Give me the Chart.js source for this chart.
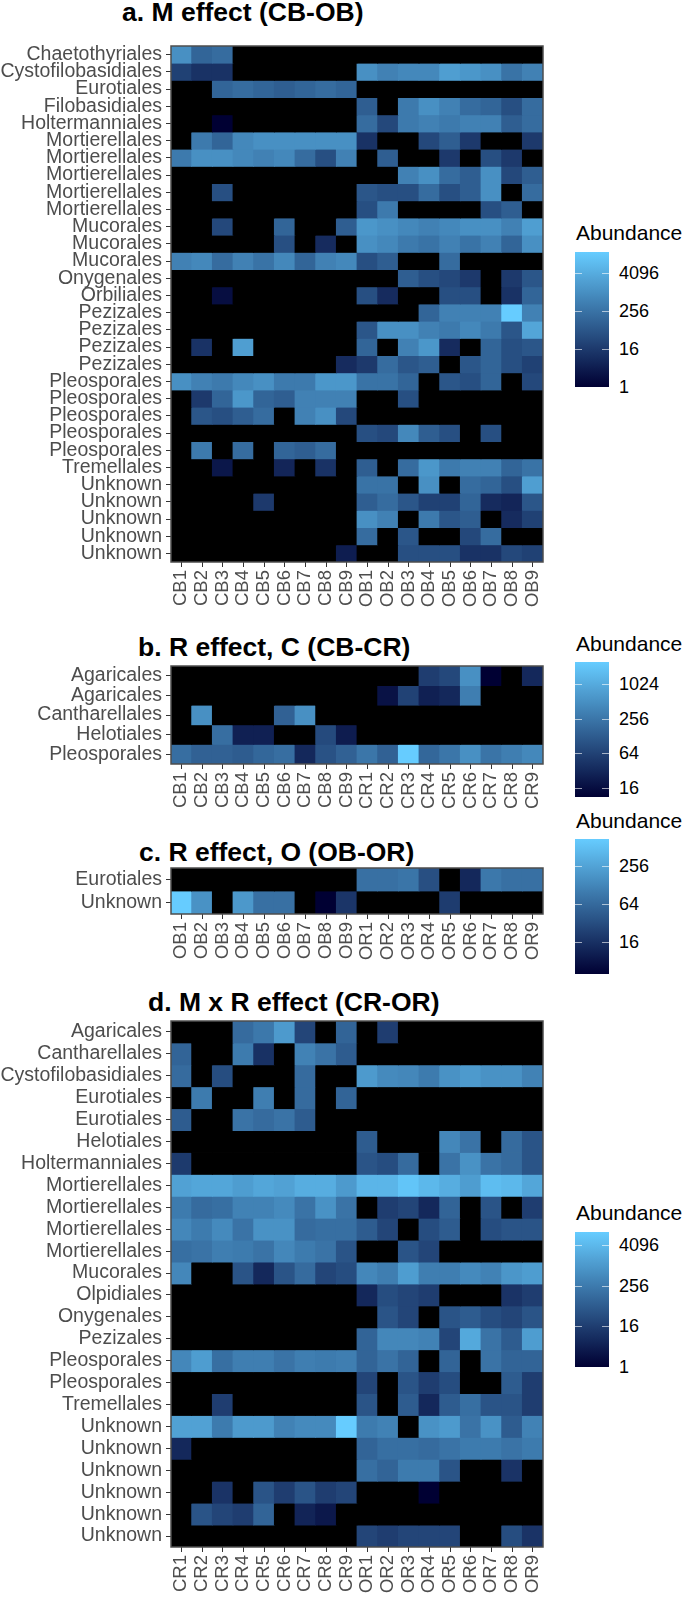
<!DOCTYPE html>
<html>
<head>
<meta charset="utf-8">
<script src="https://cdn.jsdelivr.net/npm/chart.js@4.4.1/dist/chart.umd.min.js"></script>
<style>
  body { margin: 0; background: #fff; }
  #page { position: relative; width: 685px; height: 1598px; overflow: hidden; font-family: "Liberation Sans", Arial, sans-serif; }
  .title { position: absolute; font-weight: bold; font-size: 26.5px; line-height: 26px; white-space: nowrap; color: #000; }
  .ltitle { position: absolute; left: 576px; font-size: 21px; line-height: 21px; color: #000; white-space: nowrap; }
  .bar { position: absolute; left: 575px; width: 34px; }
  .lab { position: absolute; left: 619px; font-size: 18px; line-height: 18px; color: #000; }
  .tk { position: absolute; width: 7px; height: 1px; background: rgba(255,255,255,0.6); }
</style>
</head>
<body>
<div id="page"></div>
<script>
// columns
const colsA = ["CB1","CB2","CB3","CB4","CB5","CB6","CB7","CB8","CB9","OB1","OB2","OB3","OB4","OB5","OB6","OB7","OB8","OB9"];
const colsB = ["CB1","CB2","CB3","CB4","CB5","CB6","CB7","CB8","CB9","CR1","CR2","CR3","CR4","CR5","CR6","CR7","CR8","CR9"];
const colsC = ["OB1","OB2","OB3","OB4","OB5","OB6","OB7","OB8","OB9","OR1","OR2","OR3","OR4","OR5","OR6","OR7","OR8","OR9"];
const colsD = ["CR1","CR2","CR3","CR4","CR5","CR6","CR7","CR8","CR9","OR1","OR2","OR3","OR4","OR5","OR6","OR7","OR8","OR9"];

// rows (top to bottom)
const rowsA = ["Chaetothyriales","Cystofilobasidiales","Eurotiales","Filobasidiales","Holtermanniales",
  "Mortierellales","Mortierellales","Mortierellales","Mortierellales","Mortierellales",
  "Mucorales","Mucorales","Mucorales","Onygenales","Orbiliales",
  "Pezizales","Pezizales","Pezizales","Pezizales",
  "Pleosporales","Pleosporales","Pleosporales","Pleosporales","Pleosporales",
  "Tremellales","Unknown","Unknown","Unknown","Unknown","Unknown"];
const rowsB = ["Agaricales","Agaricales","Cantharellales","Helotiales","Pleosporales"];
const rowsC = ["Eurotiales","Unknown"];
const rowsD = ["Agaricales","Cantharellales","Cystofilobasidiales","Eurotiales","Eurotiales","Helotiales","Holtermanniales",
  "Mortierellales","Mortierellales","Mortierellales","Mortierellales","Mucorales","Olpidiales","Onygenales","Pezizales",
  "Pleosporales","Pleosporales","Tremellales","Unknown","Unknown","Unknown","Unknown","Unknown","Unknown"];

// abundance, one line per row, 0 = absent (black)
const abundA = [
  [1024,128,181,0,0,0,0,0,0, 0,0,0,0,0,0,0,0,0],
  [23,11,11,0,0,0,0,0,0, 1024,512,724,724,2048,1448,1024,256,512],
  [0,0,128,181,128,91,128,181,128, 0,0,0,0,0,0,0,0,0],
  [0,0,0,0,0,0,0,0,0, 91,0,362,1024,512,181,128,45,181],
  [0,0,1,0,0,0,0,0,0, 181,32,362,512,362,512,512,91,181],
  [0,362,128,724,1024,1024,1024,1024,1024, 11,0,0,32,91,16,0,0,16],
  [362,1024,1024,724,512,724,181,45,512, 0,91,0,0,16,0,45,16,0],
  [0,0,0,0,0,0,0,0,0, 0,0,512,1024,181,91,1024,32,91],
  [0,0,45,0,0,0,0,0,0, 64,45,45,181,45,91,1024,0,181],
  [0,0,0,0,0,0,0,0,0, 45,362,0,0,0,0,45,91,0],
  [0,0,32,0,0,128,0,0,91, 1448,1024,724,512,724,1024,1024,512,2048],
  [0,0,0,0,0,45,0,8,0, 1024,724,362,256,512,256,512,128,1024],
  [512,724,181,512,256,724,128,512,724, 45,91,0,0,181,0,0,0,0],
  [0,0,0,0,0,0,0,0,0, 0,0,91,45,32,16,0,16,64],
  [0,0,2,0,0,0,0,0,0, 45,8,0,0,45,45,0,11,128],
  [0,0,0,0,0,0,0,0,0, 0,0,0,128,512,512,512,18800,512],
  [0,0,0,0,0,0,0,0,0, 64,1024,1024,512,362,724,362,64,2896],
  [0,11,0,2048,0,0,0,0,0, 128,0,512,1448,8,0,128,45,64],
  [0,0,0,0,0,0,0,0,8, 16,181,64,91,0,64,128,45,23],
  [1024,512,362,724,1024,362,362,1448,1448, 256,256,128,0,64,45,128,0,32],
  [0,16,128,1448,128,91,512,512,512, 0,0,45,0,0,0,0,0,0],
  [0,64,45,91,181,0,512,1024,32, 0,0,0,0,0,0,0,0,0],
  [0,0,0,0,0,0,0,0,0, 45,32,724,91,45,0,45,0,0],
  [0,362,0,181,0,128,91,181,0, 0,0,0,0,0,0,0,0,0],
  [0,0,3,0,0,6,0,11,0, 91,0,181,1448,362,512,512,128,256],
  [0,0,0,0,0,0,0,0,0, 256,256,0,1024,0,181,128,45,2048],
  [0,0,0,0,16,0,0,0,0, 91,181,64,23,23,128,8,6,64],
  [0,0,0,0,0,0,0,0,0, 1024,512,0,362,64,91,0,8,23],
  [0,0,0,0,0,0,0,0,0, 181,0,64,0,0,32,181,0,0],
  [0,0,0,0,0,0,0,0,4, 0,0,45,45,45,11,11,32,23]
];
const abundB = [
  [0,0,0,0,0,0,0,0,0, 0,0,0,56,74,512,11,0,32],
  [0,0,0,0,0,0,0,0,0, 0,18,64,26,32,315,0,0,0],
  [0,512,0,0,0,147,512,0,0, 0,0,0,0,0,0,0,0,0],
  [0,0,208,26,26,0,0,79,23, 0,0,0,0,0,0,0,0,0],
  [208,147,147,128,169,208,32,97,147, 256,147,2521,169,256,512,239,315,416]
];
const abundC = [
  [0,0,0,0,0,0,0,0,0, 74,74,84,34,0,13,91,74,74],
  [685,169,0,194,74,74,0,5,18, 0,0,0,0,21,0,0,0,0]
];
const abundD = [
  [0,0,0,128,223,1024,23,0,91, 0,16,0,0,0,0,0,0,0],
  [91,0,0,256,9,0,362,181,64, 0,0,0,0,0,0,0,0,0],
  [128,0,32,0,0,0,128,0,0, 1024,512,446,256,724,1024,724,724,362],
  [0,256,0,0,294,0,128,0,91, 0,0,0,0,0,0,0,0,0],
  [64,0,0,181,128,181,64,0,0, 0,0,0,0,0,0,0,0,0],
  [0,0,0,0,0,0,0,0,0, 64,0,0,0,446,181,0,128,45],
  [14,0,0,0,0,0,0,0,0, 45,32,128,0,181,724,181,128,45],
  [1448,1783,1783,1176,1783,1448,2521,2521,1024, 3566,3566,7132,4096,2521,1176,5043,4096,1783],
  [256,128,147,362,362,512,181,724,181, 0,16,23,6,91,0,45,0,16],
  [446,256,512,181,724,724,128,147,147, 64,23,0,32,64,0,32,45,45],
  [147,181,294,256,181,446,256,181,45, 0,0,45,23,0,0,0,0,0],
  [446,0,0,45,6,45,128,23,32, 446,294,1176,294,294,512,362,891,1176],
  [0,0,0,0,0,0,0,0,0, 6,32,23,16,0,0,0,10,16],
  [0,0,0,0,0,0,0,0,0, 0,45,23,0,45,64,32,23,45],
  [0,0,0,0,0,0,0,0,0, 91,446,446,362,23,2048,181,64,1176],
  [446,1176,147,294,294,181,294,256,294, 91,181,91,0,91,0,181,91,91],
  [0,0,0,0,0,0,0,0,0, 23,0,45,16,32,0,0,64,16],
  [0,0,16,0,0,0,0,0,0, 45,0,64,6,64,147,45,45,16],
  [1448,1448,256,1024,1024,362,512,512,10000, 256,362,0,724,1024,181,724,64,362],
  [6,0,0,0,0,0,0,0,0, 91,147,147,128,181,256,256,181,256],
  [0,0,0,0,0,0,0,0,0, 147,91,256,256,45,0,0,10,0],
  [0,0,10,0,45,16,45,16,23, 0,0,0,1,0,0,0,0,0],
  [0,45,23,16,91,0,5,3,0, 0,0,0,0,0,0,0,0,0],
  [0,0,0,0,0,0,0,0,0, 23,16,23,23,23,0,0,32,10]
];

// legend breaks
const ticksA = [1, 16, 256, 4096];
const ticksB = [16, 64, 256, 1024];
const ticksC = [16, 64, 256];
const ticksD = [1, 16, 256, 4096];

const FONT = '"Liberation Sans", Arial, sans-serif';
const LOW = [0, 0, 51], HIGH = [102, 204, 255];
const BAR_H = 135;

function colourScale(values) {
  const logs = values.flat().filter(v => v > 0).map(v => Math.log2(v));
  const lo = Math.min(...logs), hi = Math.max(...logs);
  const at = t => "rgb(" + LOW.map((c, k) => Math.round(c + (HIGH[k] - c) * t)).join(",") + ")";
  return {lo, hi, at, fill: v => v > 0 ? at((Math.log2(v) - lo) / (hi - lo)) : "#000000"};
}

const frame = {
  id: "frame",
  afterDatasetsDraw(chart) {
    const {ctx, chartArea: a} = chart;
    ctx.save();
    ctx.strokeStyle = "#4d4d4d";
    ctx.lineWidth = 1.5;
    ctx.strokeRect(a.left, a.top, a.right - a.left, a.bottom - a.top);
    ctx.restore();
  }
};

function addDiv(cls, text, css) {
  const d = document.createElement("div");
  d.className = cls;
  if (text) d.textContent = text;
  d.style.cssText = css;
  document.getElementById("page").appendChild(d);
  return d;
}

function heatmap(p) {
  const sc = colourScale(p.values);
  const W = 560, XH = 50;
  const boxH = p.boxBottom - p.boxTop;
  const canvas = document.createElement("canvas");
  canvas.width = W;
  canvas.height = boxH + XH + 1;
  canvas.style.cssText = `position:absolute;left:0;top:${p.boxTop - 1}px;`;
  document.getElementById("page").appendChild(canvas);

  new Chart(canvas, {
    type: "bar",
    data: {
      labels: p.cols,
      datasets: p.rows.map((r, i) => ({
        label: r,
        data: p.cols.map(() => 1),
        backgroundColor: p.values[i].map(sc.fill),
        borderWidth: 0,
        barPercentage: 1,
        categoryPercentage: 1,
        inflateAmount: 0.4
      }))
    },
    options: {
      responsive: false,
      animation: false,
      layout: {padding: {top: 1, right: W - 543, left: 0, bottom: 0}},
      plugins: {legend: {display: false}, tooltip: {enabled: false}},
      scales: {
        x: {
          stacked: true,
          grid: {drawOnChartArea: false, offset: false, tickLength: 5, color: "#333333"},
          border: {display: false},
          ticks: {minRotation: 90, maxRotation: 90, autoSkip: false, padding: 3, color: "#4d4d4d", font: {family: FONT, size: 18.5}},
          afterFit: s => { s.height = XH; s.paddingLeft = 0; s.paddingRight = 0; }
        },
        y: {
          type: "linear",
          stacked: true,
          min: 0,
          max: p.rows.length,
          reverse: true,
          grid: {drawOnChartArea: false, tickLength: 5, color: "#333333"},
          border: {display: false},
          ticks: {autoSkip: false, padding: 4, color: "#4d4d4d", font: {family: FONT, size: 19.5},
            callback: v => p.rows[Math.floor(v)]},
          afterBuildTicks: s => { s.ticks = p.rows.map((r, i) => ({value: i + 0.5})); },
          afterFit: s => { s.width = 171; s.paddingTop = 0; s.paddingBottom = 0; }
        }
      }
    },
    plugins: [frame]
  });

  // title
  addDiv("title", p.title, `left:${p.titleX}px;top:${p.titleY - 13}px;`);

  // colour bar legend
  addDiv("ltitle", "Abundance", `top:${p.legY - 10}px;`);
  const stops = [];
  for (let k = 0; k <= 10; k++) stops.push(sc.at(k / 10) + " " + (k * 10) + "%");
  addDiv("bar", "", `top:${p.barTop}px;height:${BAR_H}px;background:linear-gradient(to top, ${stops.join(",")});`);
  p.ticks.forEach(v => {
    const y = p.barTop + BAR_H - (Math.log2(v) - sc.lo) / (sc.hi - sc.lo) * BAR_H;
    addDiv("lab", String(v), `top:${y - 9}px;`);
    addDiv("tk", "", `left:575px;top:${y}px;`);
    addDiv("tk", "", `left:602px;top:${y}px;`);
  });
}

heatmap({title: "a. M effect (CB-OB)", titleX: 122, titleY: 12, cols: colsA, rows: rowsA, values: abundA, ticks: ticksA,
  boxTop: 46, boxBottom: 562, legY: 232, barTop: 252});
heatmap({title: "b. R effect, C (CB-CR)", titleX: 138, titleY: 647, cols: colsB, rows: rowsB, values: abundB, ticks: ticksB,
  boxTop: 666, boxBottom: 764, legY: 643, barTop: 662});
heatmap({title: "c. R effect, O (OB-OR)", titleX: 139, titleY: 852, cols: colsC, rows: rowsC, values: abundC, ticks: ticksC,
  boxTop: 868, boxBottom: 914, legY: 820, barTop: 839});
heatmap({title: "d. M x R effect (CR-OR)", titleX: 148, titleY: 1002, cols: colsD, rows: rowsD, values: abundD, ticks: ticksD,
  boxTop: 1021, boxBottom: 1547, legY: 1212, barTop: 1232});
</script>
</body>
</html>
